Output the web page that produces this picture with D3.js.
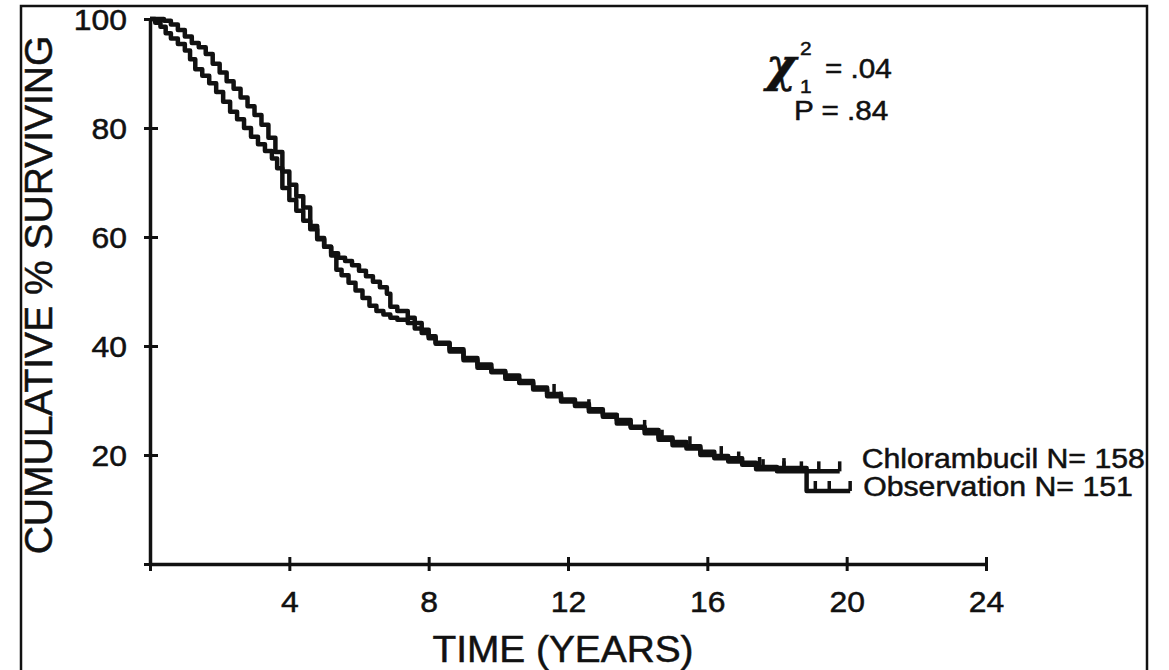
<!DOCTYPE html>
<html>
<head>
<meta charset="utf-8">
<script src="https://cdn.jsdelivr.net/npm/d3@7"></script>
<style>
body { margin: 0; background: #fff; }
svg text { font-family: "Liberation Sans", Arial, sans-serif; fill: #111; stroke: #111; stroke-width: 0.5; }
</style>
</head>
<body>
<svg id="chart"></svg>
<script>
// values: time in years, cumulative % surviving
var obsTime = [0, 0.4, 0.6, 0.8, 1.0, 1.2, 1.4, 1.6, 1.8, 2.0, 2.2, 2.4, 2.6, 2.8, 3.0, 3.2, 3.4, 3.6, 3.8, 4.0,
    4.2, 4.4, 4.6, 4.8, 5.0, 5.2, 5.4, 5.6, 5.8, 6.0, 6.2, 6.4, 6.6, 6.8, 6.9, 7.1, 7.4, 7.6, 7.8, 8.0,
    8.2, 8.6, 9.0, 9.4, 9.8, 10.2, 10.6, 11.0, 11.4, 11.8, 12.2, 12.6, 13.0, 13.4, 13.8, 14.2, 14.6, 15.0,
    15.4, 15.8, 16.2, 16.6, 17.0, 17.4, 18.0, 18.85, 20.1];
var obsSurv = [100, 99.7, 99.0, 98.0, 96.8, 95.6, 94.8, 93.6, 91.8, 90.2, 88.6, 87.2, 85.6, 84.0, 82.4, 80.6, 78.2, 75.6, 72.0, 69.6,
    67.5, 65.4, 62.0, 59.8, 58.2, 57.0, 56.2, 55.6, 54.8, 53.8, 52.8, 51.8, 50.8, 49.6, 47.2, 46.4, 45.2, 44.2, 43.0, 41.8,
    40.6, 39.4, 37.8, 36.6, 35.4, 34.6, 33.6, 32.4, 31.2, 30.2, 29.4, 28.4, 27.4, 26.4, 25.2, 24.6, 23.2, 22.4,
    21.6, 20.6, 19.8, 19.4, 18.6, 17.8, 17.6, 13.4, 13.4];

var chlTime = [0, 0.15, 0.3, 0.45, 0.6, 0.8, 1.0, 1.15, 1.3, 1.5, 1.7, 1.9, 2.1, 2.3, 2.5, 2.7, 2.9, 3.1, 3.3, 3.5,
    3.65, 3.8, 4.0, 4.2, 4.4, 4.6, 4.8, 5.0, 5.2, 5.35, 5.5, 5.7, 5.9, 6.1, 6.3, 6.5, 6.7, 6.9, 7.1, 7.4,
    7.6, 7.8, 8.0, 8.2, 8.6, 9.0, 9.4, 9.8, 10.2, 10.6, 11.0, 11.4, 11.8, 12.2, 12.6, 13.0, 13.4, 13.8,
    14.2, 14.6, 15.0, 15.4, 15.8, 16.2, 16.6, 17.0, 17.4, 18.0, 19.8];
var chlSurv = [100, 99.3, 98.6, 97.4, 96.4, 95.4, 94.2, 92.6, 90.8, 89.6, 88.2, 86.6, 84.8, 83.0, 81.6, 80.0, 78.4, 77.0, 75.8, 74.4,
    72.6, 69.0, 66.8, 64.8, 63.0, 61.4, 59.6, 58.2, 56.6, 54.0, 53.0, 51.6, 50.2, 48.8, 47.4, 46.4, 45.8, 45.2, 44.8, 44.2,
    43.2, 42.4, 41.4, 40.4, 39.0, 37.4, 36.0, 35.2, 34.0, 33.2, 32.0, 30.8, 29.8, 29.0, 28.0, 27.0, 25.8, 25.0,
    24.0, 22.8, 21.8, 21.2, 20.0, 19.4, 18.8, 18.2, 17.4, 17.0, 17.0];

// censored patients (tick marks)
var obsCensor = [11.6, 12.6, 14.2, 15.5, 16.4, 17.5, 18.2, 19.1, 19.5, 20.1];
var chlCensor = [11.8, 13.4, 14.7, 15.8, 16.9, 17.6, 18.2, 18.7, 19.2, 19.8];

var xTicks = [0, 4, 8, 12, 16, 20, 24];
var yTicks = [0, 20, 40, 60, 80, 100];
var groupLabels = ['Chlorambucil N= 158', 'Observation N= 151'];

var svg = d3.select('#chart').attr('width', 1169).attr('height', 670);

// frame round the figure
svg.append('rect').attr('x', 21).attr('y', 6).attr('width', 1126).attr('height', 700)
    .attr('fill', 'none').attr('stroke', '#111').attr('stroke-width', 2.5);

var x = d3.scaleLinear().domain([0, 24]).range([150, 986]);
var y = d3.scaleLinear().domain([0, 100]).range([564, 19]);

var xAxis = svg.append('g').attr('transform', 'translate(0,564)')
    .call(d3.axisBottom(x).tickValues(xTicks).tickFormat(function(d) { return d === 0 ? '' : d; }).tickSizeOuter(0));
var yAxis = svg.append('g').attr('transform', 'translate(150,0)')
    .call(d3.axisLeft(y).tickValues(yTicks).tickFormat(function(d) { return d === 0 ? '' : d; }).tickSizeOuter(0));

xAxis.select('.domain').attr('stroke', '#111').attr('stroke-width', 3.5);
yAxis.select('.domain').attr('stroke', '#111').attr('stroke-width', 3.5);
xAxis.selectAll('.tick line').attr('y1', -7).attr('y2', 7).attr('stroke', '#111').attr('stroke-width', 3);
yAxis.selectAll('.tick line').attr('x1', -6).attr('x2', 8).attr('stroke', '#111').attr('stroke-width', 3);
xAxis.selectAll('.tick text').attr('y', 48).attr('dy', 0).attr('font-size', 29)
    .attr('transform', 'scale(1.1,1)').style('font-family', '"Liberation Sans", Arial, sans-serif').attr('fill', '#111');
yAxis.selectAll('.tick text').attr('x', -21).attr('dy', '0.36em').attr('font-size', 29)
    .attr('transform', 'scale(1.1,1)').style('font-family', '"Liberation Sans", Arial, sans-serif').attr('fill', '#111');

// axis titles
svg.append('text').attr('transform', 'translate(563,662) scale(1.05,1)')
    .attr('text-anchor', 'middle').attr('font-size', 37).text('TIME (YEARS)');
svg.append('text').attr('transform', 'translate(52,295) rotate(-90)')
    .attr('text-anchor', 'middle').attr('font-size', 39).text('CUMULATIVE % SURVIVING');

// survival curves
var line = d3.line().x(function(d) { return x(d[0]); }).y(function(d) { return y(d[1]); })
    .curve(d3.curveStepAfter);

function pairs(ts, ss) {
    return ts.map(function(t, i) { return [t, ss[i]]; });
}

function survAt(ts, ss, t) {
    var i = d3.bisectRight(ts, t) - 1;
    return ss[Math.max(i, 0)];
}

var groups = [
    { time: chlTime, surv: chlSurv, censor: chlCensor },
    { time: obsTime, surv: obsSurv, censor: obsCensor }
];

groups.forEach(function(g) {
    svg.append('path').datum(pairs(g.time, g.surv)).attr('d', line)
        .attr('fill', 'none').attr('stroke', '#111').attr('stroke-width', 4.5).attr('stroke-linejoin', 'round');
    svg.append('g').selectAll('line').data(g.censor).enter().append('line')
        .attr('x1', function(t) { return x(t); }).attr('x2', function(t) { return x(t); })
        .attr('y1', function(t) { return y(survAt(g.time, g.surv, t)); })
        .attr('y2', function(t) { return y(survAt(g.time, g.surv, t)) - 10; })
        .attr('stroke', '#111').attr('stroke-width', 3.5);
});

// group labels at the ends of the curves
svg.append('text').attr('transform', 'translate(' + (x(chlTime[chlTime.length - 1]) + 22) + ',' + (y(chlSurv[chlSurv.length - 1]) - 3) + ') scale(1.12,1)')
    .attr('font-size', 27).text(groupLabels[0]);
svg.append('text').attr('transform', 'translate(' + (x(obsTime[obsTime.length - 1]) + 13) + ',' + (y(obsSurv[obsSurv.length - 1]) + 5) + ') scale(1.12,1)')
    .attr('font-size', 27).text(groupLabels[1]);

// log-rank test
svg.append('text').attr('x', 766).attr('y', 81).attr('font-size', 46).attr('font-weight', 'bold')
    .attr('font-style', 'italic').style('font-family', '"DejaVu Serif", serif').text('χ');
svg.append('text').attr('transform', 'translate(800,55) scale(1.1,1)').attr('font-size', 19).text('2');
svg.append('text').attr('transform', 'translate(800,93) scale(1.1,1)').attr('font-size', 19).text('1');
svg.append('text').attr('transform', 'translate(825,78) scale(1.1,1)').attr('font-size', 27).text('= .04');
svg.append('text').attr('transform', 'translate(794,120) scale(1.1,1)').attr('font-size', 27).text('P = .84');
</script>
</body>
</html>
